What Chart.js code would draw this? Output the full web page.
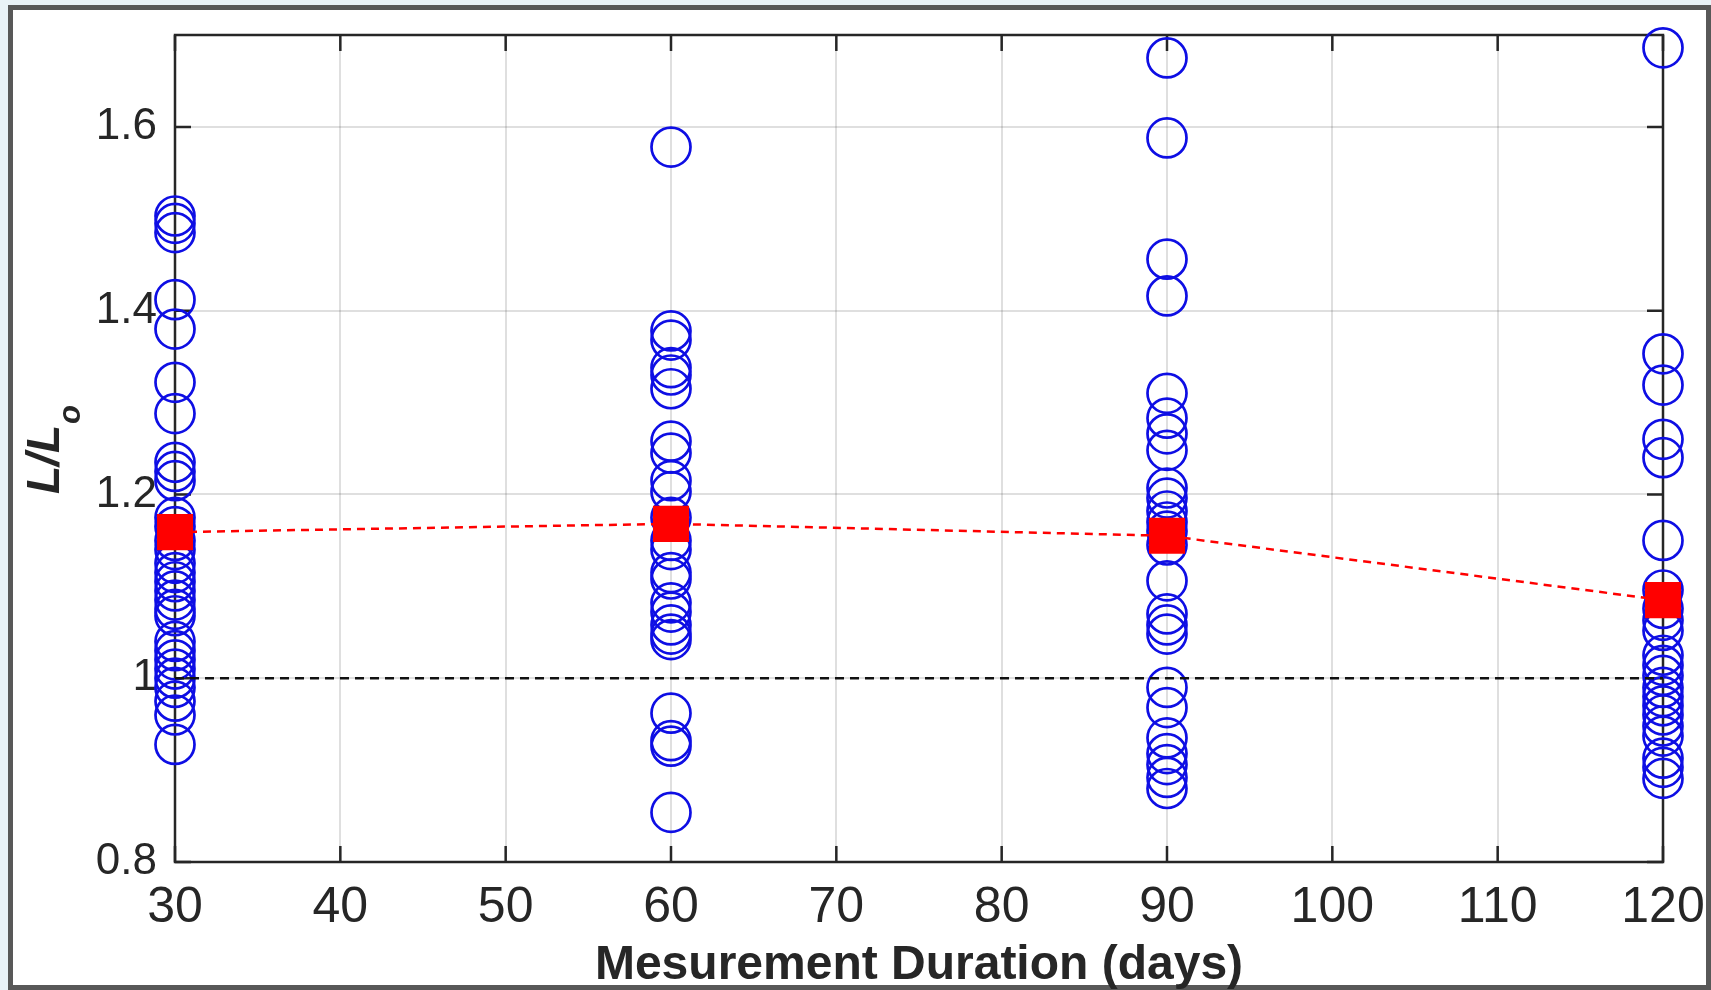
<!DOCTYPE html>
<html>
<head>
<meta charset="utf-8">
<script src="https://cdn.jsdelivr.net/npm/chart.js@4.4.1/dist/chart.umd.min.js"></script>
<style>
html, body { margin: 0; padding: 0; }
body { width: 1711px; height: 990px; background: #e9f2f7; position: relative; overflow: hidden; }
#frame { position: absolute; left: 8px; top: 5px; width: 1693px; height: 975px; border: 5px solid #585858; background: #fff; }
#wrap { position: absolute; left: 0; top: 0; width: 1711px; height: 990px; }
</style>
</head>
<body>
<div id="frame"></div>
<div id="wrap"><canvas id="lengthRatio"></canvas></div>
<script>
// measurement days and L/Lo per sample
var days = [30, 60, 90, 120];
var ratio30 = [1.503, 1.495, 1.485, 1.412, 1.380, 1.322, 1.288, 1.235, 1.225, 1.215, 1.175, 1.165, 1.150, 1.140, 1.125, 1.115, 1.105, 1.095, 1.085, 1.075, 1.068, 1.040, 1.030, 1.020, 1.010, 1.000, 0.990, 0.975, 0.960, 0.928];
var ratio60 = [1.578, 1.378, 1.368, 1.338, 1.330, 1.315, 1.258, 1.245, 1.215, 1.203, 1.175, 1.150, 1.140, 1.115, 1.108, 1.082, 1.072, 1.058, 1.048, 1.042, 0.962, 0.932, 0.926, 0.854];
var ratio90 = [1.675, 1.588, 1.456, 1.416, 1.310, 1.283, 1.266, 1.248, 1.207, 1.196, 1.182, 1.170, 1.160, 1.145, 1.106, 1.070, 1.058, 1.048, 0.990, 0.968, 0.935, 0.918, 0.906, 0.892, 0.880];
var ratio120 = [1.686, 1.353, 1.319, 1.260, 1.240, 1.150, 1.096, 1.076, 1.063, 1.052, 1.025, 1.014, 1.003, 0.990, 0.980, 0.970, 0.960, 0.948, 0.937, 0.913, 0.903, 0.891];
var meanRatio = [1.159, 1.168, 1.155, 1.085];
var refDays = [30, 120];
var refRatio = [1, 1];
var xTicks = [30, 40, 50, 60, 70, 80, 90, 100, 110, 120];
var yTicks = [0.8, 1, 1.2, 1.4, 1.6];

var axisColor = "#262626";
var fontFamily = "'Liberation Sans', Arial, Helvetica, sans-serif";

var samplePoints = [];
[ratio30, ratio60, ratio90, ratio120].forEach(function(list, i) {
    list.forEach(function(v) {
        samplePoints.push({ x: days[i], y: v });
    });
});
var meanPoints = days.map(function(d, i) { return { x: d, y: meanRatio[i] }; });
var refPoints = refDays.map(function(d, i) { return { x: d, y: refRatio[i] }; });

// matlab style box, inward ticks and the y label with subscript
var matlabAxes = {
    id: "matlabAxes",
    beforeDatasetsDraw: function(chart) {
        var a = chart.chartArea;
        var c = chart.ctx;
        var xs = chart.scales.x;
        var ys = chart.scales.y;
        c.save();
        c.strokeStyle = axisColor;
        c.lineWidth = 2.5;
        c.strokeRect(a.left, a.top, a.right - a.left, a.bottom - a.top);
        c.beginPath();
        xs.ticks.forEach(function(t) {
            var px = xs.getPixelForValue(t.value);
            c.moveTo(px, a.bottom); c.lineTo(px, a.bottom - 16);
            c.moveTo(px, a.top); c.lineTo(px, a.top + 16);
        });
        ys.ticks.forEach(function(t) {
            var py = ys.getPixelForValue(t.value);
            c.moveTo(a.left, py); c.lineTo(a.left + 16, py);
            c.moveTo(a.right, py); c.lineTo(a.right - 16, py);
        });
        c.stroke();

        c.fillStyle = axisColor;
        c.translate(59, 494);
        c.rotate(-Math.PI / 2);
        c.textBaseline = "alphabetic";
        c.textAlign = "left";
        c.font = "italic bold 46px " + fontFamily;
        c.fillText("L/L", 0, 0);
        var w = c.measureText("L/L").width;
        c.font = "italic bold 31px " + fontFamily;
        c.fillText("o", w + 1, 21);
        c.restore();
    }
};

var ctx = document.getElementById("lengthRatio").getContext("2d");
var chartInstance = new Chart(ctx, {
    type: "scatter",
    data: {
        datasets: [
            {
                label: "samples",
                data: samplePoints,
                showLine: false,
                pointStyle: "circle",
                pointRadius: 19.5,
                pointHoverRadius: 19.5,
                pointBorderWidth: 2.7,
                borderColor: "#0e0ee4",
                backgroundColor: "rgba(0,0,0,0)",
                clip: false,
                order: 3
            },
            {
                label: "reference",
                type: "line",
                data: refPoints,
                borderColor: "#111111",
                borderWidth: 2.5,
                borderDash: [9, 6],
                pointRadius: 0,
                fill: false,
                order: 2
            },
            {
                label: "mean",
                type: "line",
                data: meanPoints,
                borderColor: "#ff0000",
                borderWidth: 2.5,
                borderDash: [8, 6],
                pointStyle: "rect",
                pointRadius: 25.5,
                pointHoverRadius: 25.5,
                pointBackgroundColor: "#ff0000",
                pointBorderWidth: 0,
                fill: false,
                clip: false,
                order: 1
            }
        ]
    },
    options: {
        responsive: true,
        maintainAspectRatio: false,
        animation: false,
        events: [],
        layout: { padding: { left: 0, right: 48, top: 35, bottom: 0 } },
        plugins: {
            legend: { display: false },
            tooltip: { enabled: false }
        },
        scales: {
            x: {
                type: "linear",
                position: "bottom",
                min: 30,
                max: 120,
                afterBuildTicks: function(s) { s.ticks = xTicks.map(function(v) { return { value: v }; }); },
                afterFit: function(s) {
                    s.height = 128;
                    s.paddingLeft = 0;
                    s.paddingRight = 0;
                },
                grid: { color: "rgba(38,38,38,0.15)", lineWidth: 2, drawTicks: false },
                border: { display: false },
                ticks: {
                    color: axisColor,
                    font: { family: fontFamily, size: 50 },
                    padding: 16,
                    maxRotation: 0,
                    autoSkip: false
                },
                title: {
                    display: true,
                    text: "Mesurement Duration (days)",
                    color: axisColor,
                    font: { family: fontFamily, size: 48, weight: "bold" },
                    padding: { top: 0, bottom: -5 }
                }
            },
            y: {
                type: "linear",
                min: 0.8,
                max: 1.7,
                afterBuildTicks: function(s) { s.ticks = yTicks.map(function(v) { return { value: v }; }); },
                afterFit: function(s) {
                    s.width = 175;
                    s.paddingTop = 0;
                    s.paddingBottom = 0;
                },
                grid: { color: "rgba(38,38,38,0.15)", lineWidth: 2, drawTicks: false },
                border: { display: false },
                ticks: {
                    color: axisColor,
                    font: { family: fontFamily, size: 44 },
                    padding: 18,
                    callback: function(v) { return String(Math.round(v * 10) / 10); }
                }
            }
        }
    },
    plugins: [matlabAxes]
});
</script>
</body>
</html>
